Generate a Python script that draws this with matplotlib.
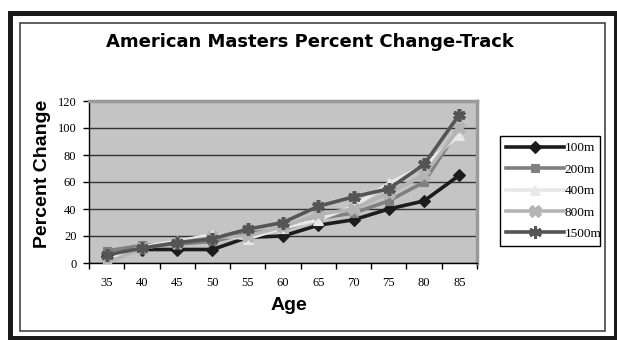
import matplotlib
matplotlib.use('Agg')
import matplotlib.pyplot as plt
from matplotlib.patches import Rectangle
from matplotlib.lines import Line2D
import numpy as np

# Age groups and percent change per event
ages = [35, 40, 45, 50, 55, 60, 65, 70, 75, 80, 85]
pct_100m = [5, 10, 10, 10, 19, 20, 28, 32, 40, 46, 65]
pct_200m = [9, 13, 14, 16, 22, 25, 33, 37, 46, 60, 100]
pct_400m = [2, 12, 16, 21, 18, 26, 32, 42, 59, 72, 95]
pct_800m = [0, 11, 15, 19, 20, 27, 36, 40, 52, 65, 100]
pct_1500m = [6, 11, 15, 18, 25, 30, 42, 49, 55, 73, 110]

events = ['100m', '200m', '400m', '800m', '1500m']
series = [pct_100m, pct_200m, pct_400m, pct_800m, pct_1500m]
colors = ['#1c1c1c', '#808080', '#e8e8e8', '#b4b4b4', '#555555']
markers = ['D', 's', '^', 'X', (6, 2, 0)]
msizes = [6, 6, 7, 8, 9]

W, H = 617, 340
fig = plt.figure(figsize=(W / 100, H / 100), dpi=100)
fig.patch.set_facecolor('white')

# double frame around the whole chart
fig.add_artist(Rectangle((10 / W, 1 - 338 / H), 605.5 / W, 325.5 / H,
                         transform=fig.transFigure, fill=False,
                         edgecolor='#1a1a1a', linewidth=3.6))
fig.add_artist(Rectangle((20 / W, 1 - 331 / H), 585 / W, 308 / H,
                         transform=fig.transFigure, fill=False,
                         edgecolor='#444444', linewidth=1.2))

ax = fig.add_axes([89 / W, 1 - 263 / H, 388 / W, 162 / H])
ax.set_facecolor('#c4c4c4')

x = np.arange(len(ages))
for vals, name, c, m, ms in zip(series, events, colors, markers, msizes):
    mew = 2.6 if isinstance(m, tuple) else 0.8
    ax.plot(x, vals, color=c, linewidth=2.6, marker=m, markersize=ms,
            markerfacecolor=c, markeredgecolor=c, markeredgewidth=mew,
            label=name, zorder=3)

ax.set_xlim(-0.5, len(ages) - 0.5)
ax.set_ylim(0, 120)
ax.set_yticks(range(0, 121, 20))
ax.grid(axis='y', color='#333333', linewidth=1.0)
ax.set_axisbelow(True)

ax.set_xticks(x)
ax.set_xticklabels([str(a) for a in ages])
ax.set_xticks(np.arange(-0.5, len(ages), 1.0), minor=True)
ax.tick_params(axis='x', which='major', length=0, pad=10)
ax.tick_params(axis='x', which='minor', length=4, width=1, direction='out')
ax.tick_params(axis='y', length=4, width=1, direction='out', pad=5)
for lbl in ax.get_xticklabels() + ax.get_yticklabels():
    lbl.set_family('Liberation Serif')
    lbl.set_fontsize(9)

for side in ['left', 'bottom']:
    ax.spines[side].set_color('black')
    ax.spines[side].set_linewidth(1)
for side in ['top', 'right']:
    ax.spines[side].set_color('#9a9a9a')
    ax.spines[side].set_linewidth(2.5)

fig.text(309.5 / W, 1 - 46.7 / H, 'American Masters Percent Change-Track',
         ha='center', va='baseline', fontsize=13, fontweight='bold',
         family='DejaVu Sans')
fig.text(43 / W, 1 - 174 / H, 'Percent Change', rotation=90,
         ha='center', va='center', fontsize=14, fontweight='bold',
         family='Liberation Sans')
fig.text(289 / W, 1 - 305 / H, 'Age', ha='center', va='center',
         fontsize=14, fontweight='bold', family='Liberation Sans')

handles = [Line2D([], [], color=c, linewidth=2.6, marker=m, markersize=ms,
                  markerfacecolor=c, markeredgecolor=c,
                  markeredgewidth=2.2 if isinstance(m, tuple) else 0.8)
           for c, m, ms in zip(colors, markers, msizes)]
leg = fig.legend(handles, events, loc='lower left',
                 bbox_to_anchor=(500 / W, 1 - 246 / H, 100 / W, 113 / H),
                 mode='expand', frameon=True, fancybox=False,
                 edgecolor='black', framealpha=1,
                 prop={'family': 'Liberation Serif', 'size': 9.5},
                 handlelength=4.4, handletextpad=0.05, labelspacing=0.7,
                 borderaxespad=0, borderpad=0.45, handleheight=0.7)
leg.get_frame().set_linewidth(1)

fig.savefig('out.png', dpi=100)
